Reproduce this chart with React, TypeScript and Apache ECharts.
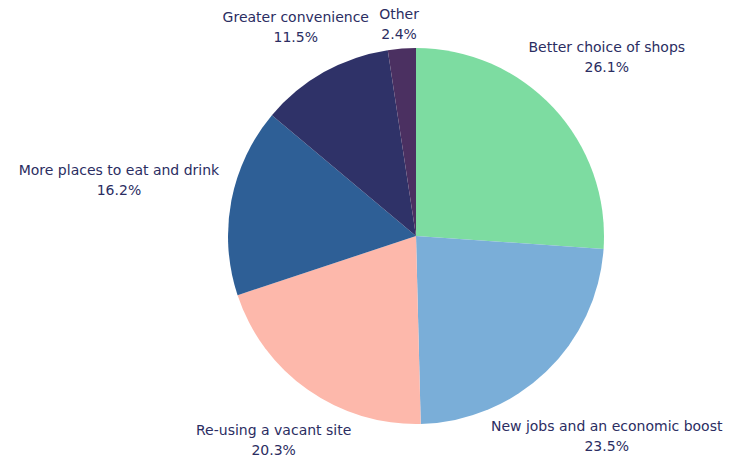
import React, { useEffect, useRef } from "react";
import * as echarts from "echarts";

const categories = [
  "Better choice of shops",
  "New jobs and an economic boost",
  "Re-using a vacant site",
  "More places to eat and drink",
  "Greater convenience",
  "Other",
];
const values = [26.1, 23.5, 20.3, 16.2, 11.5, 2.4];
const colors = ["#7ddca1", "#7aaed8", "#fdb8ab", "#2e5f96", "#2f3268", "#4b3061"];

// layout settings for the outside labels (not data)
const CX = 416;
const CY = 236;
const R = 188;
const LABEL_GAP = 190;
const labelNudge: [number, number][] = [
  [0, -1],
  [-6, -6],
  [2, -1],
  [-10, -1],
  [-1, 3],
  [-1, -1],
];

export default function App() {
  const ref = useRef<HTMLDivElement>(null);
  useEffect(() => {
    document.body.style.margin = "0";
    const chart = echarts.init(ref.current!, null, { renderer: "svg" });
    const total = values.reduce((a, b) => a + b, 0);
    chart.setOption({
      animation: false,
      backgroundColor: "#ffffff",
      series: [
        {
          type: "pie",
          center: [CX, CY],
          radius: R,
          startAngle: 90,
          clockwise: true,
          avoidLabelOverlap: false,
          data: categories.map((c, i) => ({
            name: c,
            value: values[i],
            itemStyle: { color: colors[i] },
          })),
          label: {
            show: true,
            position: "outside",
            formatter: (p: any) => `${p.name}\n${values[p.dataIndex].toFixed(1)}%`,
            color: "#2b2d62",
            fontFamily: "DejaVu Sans",
            fontSize: 14,
            lineHeight: 20,
          },
          labelLine: { show: false, length: 18, length2: 6 },
          labelLayout: (p: any) => {
            const i = p.dataIndex;
            let before = 0;
            for (let k = 0; k < i; k++) before += values[k];
            const mid = ((before + values[i] / 2) / total) * Math.PI * 2;
            const dx = Math.sin(mid);
            const dy = -Math.cos(mid);
            const w = p.labelRect.width;
            const h = p.labelRect.height;
            const L = LABEL_GAP + (Math.abs(dx) * w) / 2 + (Math.abs(dy) * h) / 2;
            return {
              x: CX + L * dx + labelNudge[i][0],
              y: CY + L * dy + labelNudge[i][1],
              align: "center",
              verticalAlign: "middle",
            };
          },
        },
      ],
    });
    return () => chart.dispose();
  }, []);
  return <div ref={ref} style={{ width: 732, height: 459 }} />;
}
